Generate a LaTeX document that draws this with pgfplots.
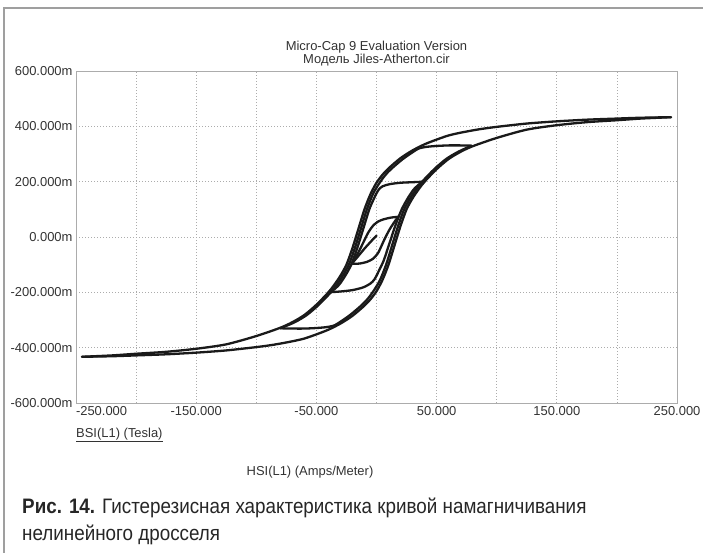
\documentclass[border=0pt]{standalone}
\usepackage{fontspec}
\setmainfont{Liberation Sans}
\newfontfamily\capfont[FakeStretch=0.9]{Liberation Sans}
\usepackage{pgfplots}
\pgfplotsset{compat=1.18}
\definecolor{txt}{HTML}{333333}
\definecolor{curve}{HTML}{1A1A1A}
\pgfplotsset{hy/.style={draw=curve, line width=2.3bp, line join=round, line cap=round, smooth, tension=0.45, mark=none}}
\begin{document}
\begin{tikzpicture}[x=1bp,y=1bp]
\path[use as bounding box, fill=white] (0,0) rectangle (703,553);
\draw[gray!75, line width=1.5bp] (4,0) -- (4,545) -- (703,545);
\begin{axis}[
  at={(76bp,150bp)}, anchor=south west,
  scale only axis, width=601bp, height=332bp,
  xmin=-250, xmax=250, ymin=-600, ymax=600,
  xtick={-250,-200,...,250},
  xticklabels={\makebox[0pt][l]{-250.000},,-150.000,,-50.000,,50.000,,150.000,,250.000},
  ytick={-600,-400,...,600},
  yticklabels={-600.000m,-400.000m,-200.000m,0.000m,200.000m,400.000m,600.000m},
  tick label style={font=\fontsize{13}{15}\selectfont, text=txt},
  major tick length=0pt,
  axis line style={gray!65, line width=0.8bp},
  grid=major,
  major grid style={gray!65, line width=0.7bp, dash pattern=on 1bp off 2bp},
]
% major loop, descending branch
\addplot[hy] coordinates {(245,433)(220,431)(200,428)(175,424)(150,418)(125,410)(100,398)(85,389)(70,377)(60,367)(50,352)(40,335)(30,313)(20,285)(10,248)(5,225)(0,196)(-5,155)(-10,100)(-15,30)(-20,-40)(-25,-100)(-30,-140)(-35,-172)(-40,-200)(-50,-245)(-60,-282)(-70,-308)(-80,-328)(-100,-358)(-125,-388)(-150,-404)(-175,-415)(-200,-422)(-220,-428)(-245,-433)};
% major loop, ascending branch
\addplot[hy] coordinates {(-245,-433)(-220,-431)(-200,-428)(-175,-424)(-150,-418)(-125,-410)(-100,-398)(-85,-389)(-70,-377)(-60,-367)(-50,-352)(-40,-335)(-30,-313)(-20,-285)(-10,-248)(-5,-225)(0,-196)(5,-155)(10,-100)(15,-30)(20,40)(25,100)(30,140)(35,172)(40,200)(50,245)(60,282)(70,308)(80,328)(100,358)(125,388)(150,404)(175,415)(200,422)(220,428)(245,433)};
% loop +-80
\addplot[hy] coordinates {(79,330)(70,331)(60,331)(50,329)(42,326)(36,321)(32,312)(22,282)(12,245)(7,222)(2,192)(-3,155)(-8,100)(-13,30)(-18,-40)(-23,-100)(-28,-140)(-33,-172)(-38,-200)(-48,-245)(-58,-282)(-68,-308)(-80,-330)};
\addplot[hy] coordinates {(-80,-330)(-70,-331)(-60,-331)(-50,-329)(-42,-326)(-36,-321)(-32,-312)(-22,-282)(-12,-245)(-7,-222)(-2,-192)(3,-155)(8,-100)(13,-30)(18,40)(23,100)(28,140)(33,172)(38,200)(48,245)(58,282)(68,308)(79,330)};
% loop +-40
\addplot[hy] coordinates {(40,200)(30,198)(20,196)(11,191)(5,183)(2,172)(0,158)(-2,140)(-6,100)(-11,30)(-16,-40)(-21,-100)(-26,-140)(-31,-172)(-36,-192)(-40,-200)};
\addplot[hy] coordinates {(-40,-200)(-30,-197)(-20,-192)(-11,-182)(-5,-168)(-2,-155)(0,-140)(2,-122)(6,-85)(11,-20)(16,45)(21,100)(26,140)(31,172)(36,192)(40,200)};
% loop +-20
\addplot[hy] coordinates {(18,73)(12,70)(6,64)(1,55)(-3,40)(-7,15)(-11,-20)(-15,-55)(-20.6,-97)};
\addplot[hy] coordinates {(-20.6,-97)(-14,-96)(-8,-90)(-3,-79)(1,-60)(3,-43)(7,-5)(11,28)(15,55)(18,73)};
% inner segment
\addplot[hy] coordinates {(-20.6,-97)(-15,-68)(-10,-42)(-5,-18)(0,5)};
\end{axis}
\node[font=\fontsize{13}{15}\selectfont, text=txt] at (376.5,506) {Micro-Cap 9 Evaluation Version};
\node[font=\fontsize{13}{15}\selectfont, text=txt] at (376.5,493) {Модель Jiles-Atherton.cir};
\node[font=\fontsize{13}{15}\selectfont, text=txt, anchor=west, inner sep=0pt] at (76,118) {\underline{BSI(L1) (Tesla)}};
\node[font=\fontsize{13}{15}\selectfont, text=txt] at (310,81) {HSI(L1) (Amps/Meter)};
\node[font=\capfont\fontsize{21}{25}\selectfont, text=black!85, anchor=west, inner sep=0pt] at (22,45) {\textbf{Рис. 14.} Гистерезисная характеристика кривой намагничивания};
\node[font=\capfont\fontsize{21}{25}\selectfont, text=black!85, anchor=west, inner sep=0pt] at (22,18) {нелинейного дросселя};
\end{tikzpicture}
\end{document}
